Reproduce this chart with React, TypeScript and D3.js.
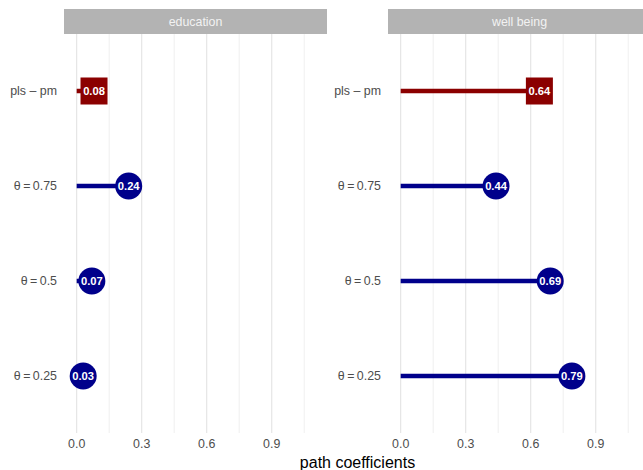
import React from "react";
import * as d3 from "d3";

const panels = ["education", "well being"];
const rows = ["θ\u2009=\u20090.25", "θ\u2009=\u20090.5", "θ\u2009=\u20090.75", "pls – pm"];
const educationValues = [0.03, 0.07, 0.24, 0.08];
const wellBeingValues = [0.79, 0.69, 0.44, 0.64];
const xTicks = [0.0, 0.3, 0.6, 0.9];
const minorTicks = [0.15, 0.45, 0.75, 1.05];

const W = 643;
const H = 470;
const panelW = 263;
const panelLefts = [64, 388];
const top = 34;
const bottom = 433;
const stripTop = 9;

export default function App() {
  const series = [educationValues, wellBeingValues];
  const y = d3.scalePoint<string>().domain(rows).range([bottom, top]).padding(0.6);
  const font = "'Liberation Sans', Arial, Helvetica, sans-serif";
  return (
    <svg width={W} height={H} style={{ display: "block", position: "absolute", left: 0, top: 0 }} fontFamily={font}>
      <rect x={0} y={0} width={W} height={H} fill="#fff" />
      {panels.map((p, pi) => {
        const x0 = panelLefts[pi];
        const x = d3.scaleLinear().domain([-0.0585, 1.155]).range([x0, x0 + panelW]);
        const vals = series[pi];
        return (
          <g key={p}>
            {minorTicks.map((t) => (
              <line key={"m" + t} x1={x(t)} x2={x(t)} y1={top} y2={bottom} stroke="#EBEBEB" strokeWidth={0.8} />
            ))}
            {xTicks.map((t) => (
              <line key={"M" + t} x1={x(t)} x2={x(t)} y1={top} y2={bottom} stroke="#E3E3E3" strokeWidth={1.1} />
            ))}
            <rect x={x0} y={stripTop} width={panelW} height={top - stripTop} fill="#B3B3B3" />
            <text x={x0 + panelW / 2} y={(stripTop + top) / 2} dy="0.35em" textAnchor="middle" fontSize={12.4} fill="#F2F2F2">
              {p}
            </text>
            {rows.map((r) => (
              <text key={r} x={x0 - 7} y={y(r)!} dy="0.35em" textAnchor="end" fontSize={12.4} fill="#4D4D4D">
                {r}
              </text>
            ))}
            {xTicks.map((t) => (
              <text key={"t" + t} x={x(t)} y={444} dy="0.35em" textAnchor="middle" fontSize={12.4} fill="#4D4D4D">
                {t.toFixed(1)}
              </text>
            ))}
            {rows.map((r, ri) => {
              const v = vals[ri];
              const isPls = ri === 3;
              const col = isPls ? "#8B0000" : "#00008B";
              const cy = y(r)!;
              return (
                <g key={"mk" + r}>
                  <line x1={x(0)} x2={x(v)} y1={cy} y2={cy} stroke={col} strokeWidth={4.5} />
                  {isPls ? (
                    <rect x={x(v) - 13.5} y={cy - 13.5} width={27} height={27} fill={col} />
                  ) : (
                    <circle cx={x(v)} cy={cy} r={13.5} fill={col} />
                  )}
                  <text x={x(v)} y={cy} dy="0.35em" textAnchor="middle" fontSize={11.2} fontWeight="bold" fill="#fff">
                    {v.toFixed(2)}
                  </text>
                </g>
              );
            })}
          </g>
        );
      })}
      <text x={357.5} y={462} dy="0.35em" textAnchor="middle" fontSize={16} fill="#000">
        path coefficients
      </text>
    </svg>
  );
}
